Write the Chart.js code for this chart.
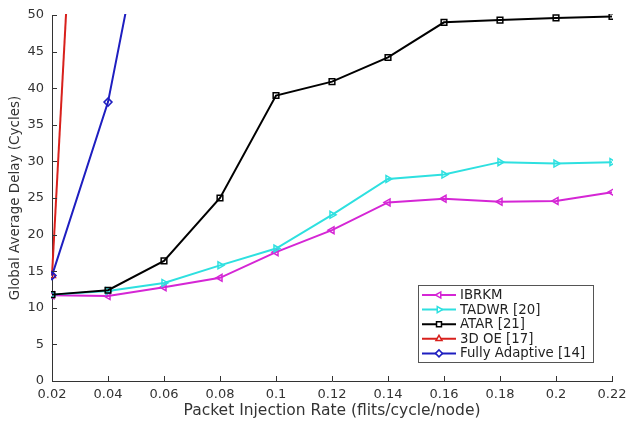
<!DOCTYPE html>
<html><head><meta charset="utf-8">
<script src="https://cdn.jsdelivr.net/npm/chart.js@4.4.1/dist/chart.umd.min.js"></script>
<style>html,body{margin:0;padding:0;background:#fff}#wrap{width:628px;height:423px}</style>
</head><body><div id="wrap"><canvas id="c" width="628" height="423"></canvas></div>
<script>
const categories = ['0.02','0.04','0.06','0.08','0.1','0.12','0.14','0.16','0.18','0.2','0.22'];
const ibrkm = [11.7, 11.6, 12.8, 14.1, 17.6, 20.6, 24.4, 24.9, 24.5, 24.6, 25.8];
const tadwr = [11.8, 12.3, 13.4, 15.8, 18.1, 22.7, 27.6, 28.2, 29.9, 29.7, 29.9];
const atar  = [11.8, 12.4, 16.4, 25.0, 39.0, 40.9, 44.2, 49.0, 49.3, 49.6, 49.8];
const oe3d  = [14.4, 157];
const fullyAdaptive = [14.4, 38.1, 77];
const seriesNames = ['IBRKM','TADWR [20]','ATAR [21]','3D OE [17]','Fully Adaptive [14]'];
const yTicks = [0,5,10,15,20,25,30,35,40,45,50];

const textColor = '#333333';
const font = 'DejaVu Sans';

function ds(label, data, color, style, rot, order){
  return {label, data, borderColor: color, backgroundColor: 'rgba(0,0,0,0)',
    pointBorderColor: color, pointBackgroundColor: 'rgba(0,0,0,0)',
    borderWidth: 2, pointBorderWidth: 1.5, pointRadius: 4, pointStyle: style,
    pointRotation: rot, tension: 0, order, clip: 1};
}

const legendPlugin = {
  id: 'boxLegend',
  afterDraw(chart){
    const ctx = chart.ctx;
    const x0 = 418, y0 = 285, w = 175, h = 77;
    ctx.save();
    ctx.fillStyle = '#fff';
    ctx.fillRect(x0, y0, w, h);
    ctx.strokeStyle = '#555';
    ctx.lineWidth = 1;
    ctx.strokeRect(x0+0.5, y0+0.5, w, h);
    ctx.font = '13.3px "' + font + '"';
    ctx.textBaseline = 'middle';
    chart.data.datasets.forEach((d, i) => {
      const y = y0 + 10 + i*14.6;
      ctx.strokeStyle = d.borderColor;
      ctx.lineWidth = 2;
      ctx.beginPath(); ctx.moveTo(422, y); ctx.lineTo(456, y); ctx.stroke();
      ctx.fillStyle = '#ffffff';
      ctx.lineWidth = 1.5;
      Chart.helpers.drawPoint(ctx, {pointStyle: d.pointStyle, rotation: d.pointRotation, radius: 3.5, borderWidth: 1.5}, 439, y);
      ctx.fillStyle = '#222';
      ctx.fillText(d.label, 460, y + 0.5);
    });
    ctx.restore();
  }
};

const tickPlugin = {
  id: 'inTicks',
  afterDraw(chart){
    const ctx = chart.ctx, xs = chart.scales.x, ys = chart.scales.y, a = chart.chartArea;
    ctx.save();
    ctx.strokeStyle = '#333';
    ctx.lineWidth = 1;
    ctx.beginPath();
    categories.forEach((c, i) => { const px = Math.round(xs.getPixelForValue(i)) + 0.5; ctx.moveTo(px, a.bottom); ctx.lineTo(px, a.bottom - 5); });
    yTicks.forEach(v => { const py = Math.round(ys.getPixelForValue(v)) + 0.5; ctx.moveTo(a.left, py); ctx.lineTo(a.left + 5, py); });
    ctx.stroke();
    ctx.restore();
  }
};

new Chart(document.getElementById('c'), {
  type: 'line',
  data: {
    labels: categories,
    datasets: [
      ds(seriesNames[0], ibrkm, '#d526d5', 'triangle', -90, 5),
      ds(seriesNames[1], tadwr, '#2ee0e0', 'triangle', 90, 4),
      ds(seriesNames[2], atar, '#000000', 'rect', 0, 3),
      ds(seriesNames[3], oe3d, '#d8201c', 'triangle', 0, 2),
      ds(seriesNames[4], fullyAdaptive, '#1e1ec0', 'rectRot', 0, 1)
    ]
  },
  plugins: [legendPlugin, tickPlugin],
  options: {
    responsive: false, animation: false, devicePixelRatio: 1,
    layout: {padding: {top: 15, right: 16, left: 0, bottom: 0}},
    plugins: {legend: {display: false}, tooltip: {enabled: false}},
    scales: {
      x: {
        type: 'category', offset: false,
        grid: {display: false, drawTicks: false},
        border: {display: true, color: '#333', width: 1},
        ticks: {color: textColor, font: {family: font, size: 13}, padding: 6, maxRotation: 0, autoSkip: false},
        title: {display: true, text: 'Packet Injection Rate (flits/cycle/node)', color: textColor, font: {family: font, size: 15.5}, padding: {top: 0, bottom: 3}},
        afterFit(s){ s.height = 42; s.paddingLeft = 0; s.paddingRight = 0; }
      },
      y: {
        min: 0, max: 50,
        afterBuildTicks(s){ s.ticks = yTicks.map(v => ({value: v})); },
        grid: {display: false, drawTicks: false},
        border: {display: true, color: '#333', width: 1},
        ticks: {color: textColor, font: {family: font, size: 13}, padding: 8},
        title: {display: true, text: 'Global Average Delay (Cycles)', color: textColor, font: {family: font, size: 13.5}, padding: {top: 7, bottom: 0}},
        afterFit(s){ s.width = 52; s.paddingTop = 0; s.paddingBottom = 0; }
      }
    }
  }
});
</script></body></html>
